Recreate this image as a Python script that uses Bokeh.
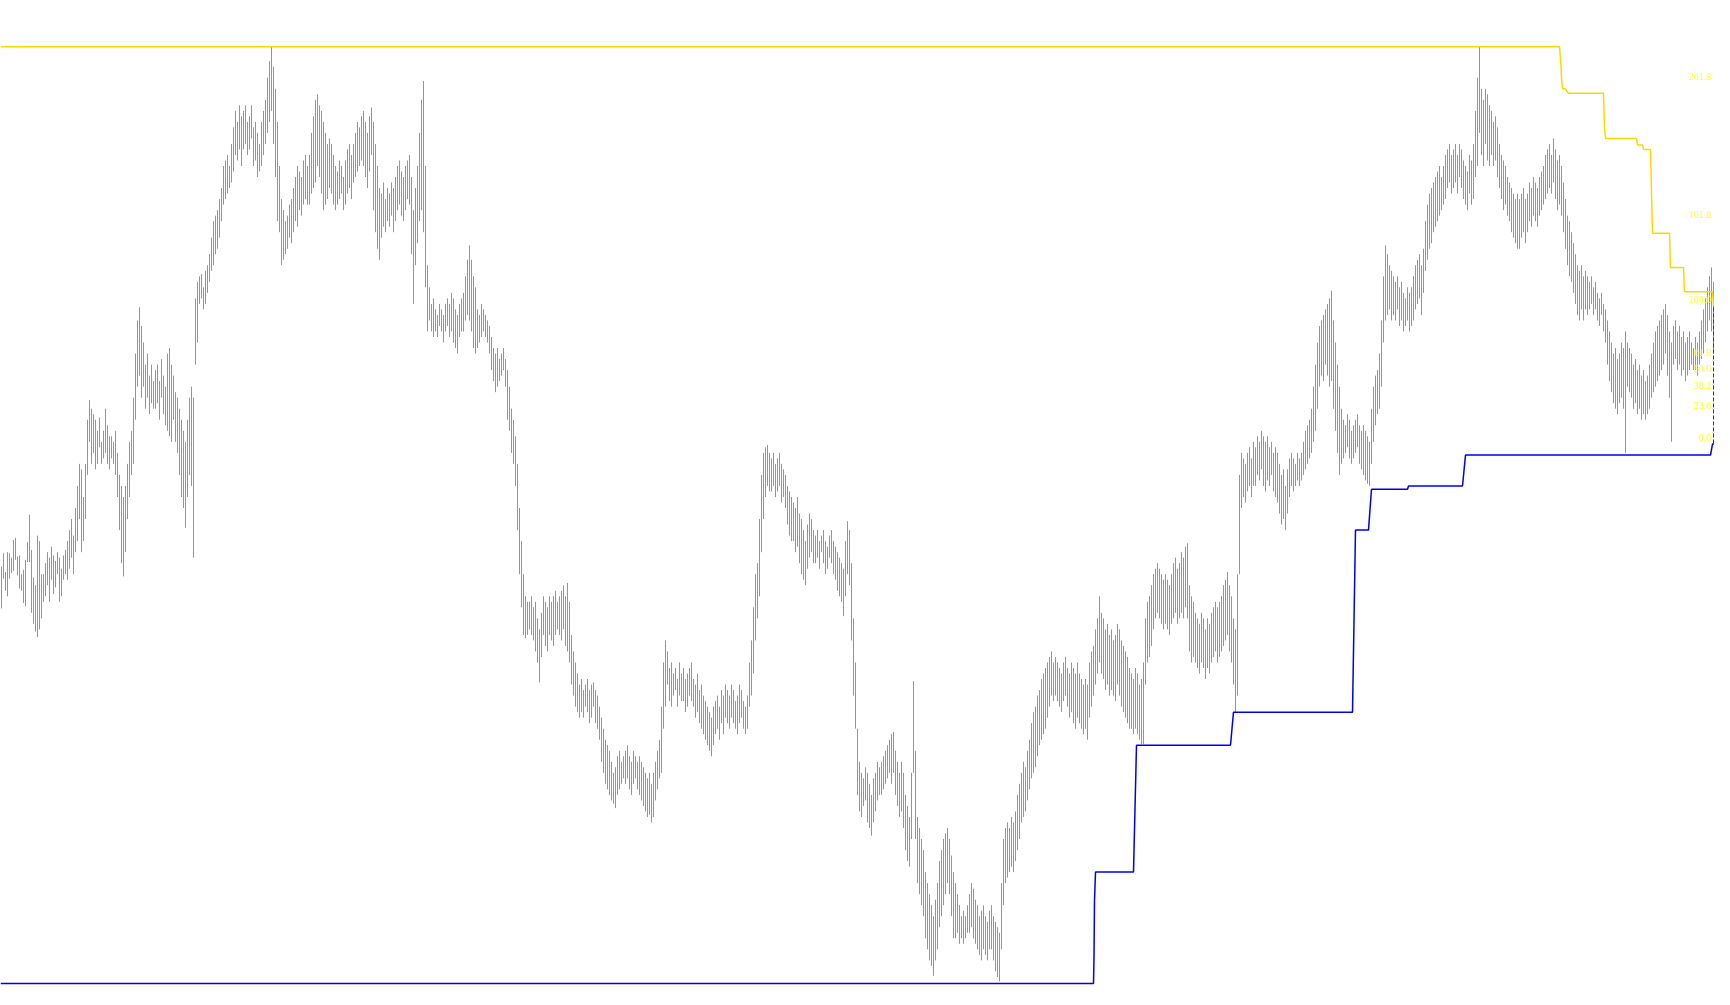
from bokeh.plotting import figure
from bokeh.models import Range1d, ColumnDataSource, LabelSet
from bokeh.embed import file_html
from bokeh.resources import INLINE

# ---- bar data (high / low of each bar, price units) ----
highs = [
    487,499,482,500,499,495,511,513,496,497,480,
    484,493,509,534,502,477,470,515,510,480,480,
    490,500,495,505,497,492,500,495,485,497,502,
    510,520,530,515,540,560,580,575,550,580,620,
    638,630,625,620,610,622,600,610,630,615,605,
    605,600,610,590,570,560,550,560,580,600,610,
    640,680,710,722,705,690,670,680,660,670,655,
    665,670,655,675,660,650,680,685,670,660,645,
    640,630,620,610,600,620,640,650,640,730,745,
    750,752,740,755,760,770,785,800,805,810,820,
    830,850,855,860,850,870,885,900,890,905,895,
    900,905,890,895,905,885,890,880,870,890,900,
    910,930,945,958,940,920,890,850,820,810,800,
    805,815,820,830,840,850,845,840,855,860,850,
    860,880,895,910,915,905,900,890,880,870,875,
    870,860,850,845,855,850,840,855,865,870,860,
    870,880,890,885,895,900,890,880,895,903,890,
    870,850,830,825,835,820,830,825,835,830,840,
    850,855,845,840,850,855,860,840,810,830,850,
    880,910,927,850,760,740,725,730,720,715,725,
    720,715,725,730,725,735,730,720,715,725,730,
    735,750,765,778,765,750,740,720,715,725,720,
    715,710,705,695,685,680,685,675,680,685,675,
    665,650,630,620,605,580,540,510,480,460,455,
    455,460,450,455,440,430,445,460,455,450,460,
    455,460,465,455,460,465,470,460,472,455,425,
    410,400,390,380,385,375,380,385,375,380,382,
    375,370,360,350,340,330,325,320,310,300,305,
    315,320,310,315,320,325,315,310,320,315,310,
    315,310,305,300,295,300,290,300,310,320,330,
    360,400,420,410,395,400,390,395,385,400,390,
    395,385,390,395,400,385,380,390,375,380,370,
    365,360,355,350,360,365,370,360,375,370,380,
    375,370,380,375,365,370,380,375,365,360,370,
    400,420,450,480,490,530,570,590,595,597,590,
    585,590,580,585,590,580,575,570,560,555,550,
    545,540,550,535,530,520,510,525,535,530,520,
    515,520,510,515,520,510,505,515,520,510,505,
    500,495,490,485,510,528,520,490,440,400,340,
    310,300,295,305,300,290,280,295,300,310,305,
    310,315,320,325,330,335,337,320,310,300,310,
    300,280,270,260,300,383,320,260,250,240,230,
    210,200,190,180,170,185,200,220,230,240,245,
    250,240,225,210,200,190,180,170,175,170,180,
    190,200,195,185,180,170,175,180,170,165,175,
    180,170,165,160,155,200,240,250,255,250,260,
    255,265,280,290,300,310,305,320,330,345,355,
    360,370,375,385,390,395,400,405,410,400,405,
    400,395,390,400,405,395,390,400,395,390,400,
    390,385,380,385,380,400,410,415,430,440,460,
    445,440,430,435,425,430,420,425,435,430,420,
    415,410,405,395,390,385,395,390,380,385,400,
    440,455,460,470,480,485,490,485,480,475,480,
    475,470,480,490,495,485,490,500,495,505,508,
    470,460,455,445,440,435,445,440,430,440,435,
    445,450,455,450,455,460,470,475,482,470,460,
    440,430,480,570,590,585,580,590,595,585,600,
    595,605,600,610,605,600,605,595,600,590,595,
    590,580,570,575,560,575,585,590,585,580,590,
    585,590,600,610,615,620,630,650,670,690,705,
    710,715,720,725,730,737,710,690,670,650,630,
    620,615,625,620,610,615,620,625,615,610,615,
    610,605,600,630,650,660,665,680,710,750,778,
    770,760,755,750,745,750,740,745,735,730,740,
    735,740,750,760,765,770,760,775,800,815,825,
    830,835,840,845,850,840,850,860,865,870,860,
    865,870,860,870,865,855,850,845,860,855,870,
    900,930,958,920,910,920,915,905,900,890,895,
    885,870,860,855,850,840,835,830,825,820,825,
    820,825,830,820,825,835,830,840,835,830,840,
    845,850,860,865,870,860,875,865,855,860,850,
    835,820,805,800,790,780,770,760,755,760,750,
    755,750,745,750,740,745,735,730,735,725,720,
    710,700,690,680,685,675,680,690,685,700,690,
    685,680,670,675,665,670,660,665,655,660,670,
    680,690,700,705,710,715,720,725,715,700,690,
    705,710,700,705,695,700,690,695,700,690,685,
    695,690,700,710,720,730,740,750,758,745,735,
    730,720,735,725,715,710,
]
lows = [
    449,476,465,460,476,481,483,493,479,467,465,
    454,451,491,491,445,435,428,423,430,440,455,
    460,470,455,475,462,468,480,455,460,475,480,
    475,485,495,480,500,510,530,500,510,530,570,
    600,580,590,575,580,595,580,585,590,580,575,
    585,580,570,550,520,490,478,500,530,550,570,
    580,620,650,660,640,650,630,640,625,635,630,
    630,635,620,640,625,615,610,605,600,620,600,
    590,570,550,540,522,550,570,560,495,670,690,
    725,730,720,725,735,745,755,760,770,775,785,
    800,815,820,825,830,835,845,860,855,865,850,
    865,870,860,865,875,850,855,840,845,850,860,
    870,880,890,900,870,840,800,790,760,765,770,
    775,785,780,790,800,795,810,805,815,820,815,
    815,825,830,835,850,840,825,810,815,820,830,
    825,815,810,815,820,825,810,815,825,830,820,
    835,840,845,850,855,850,840,830,845,860,810,
    790,775,765,785,795,790,800,795,805,790,800,
    810,815,805,800,810,820,815,770,725,760,780,
    800,810,790,740,700,710,700,695,700,695,705,
    700,690,700,705,695,700,690,685,680,695,700,
    700,710,715,710,700,685,680,685,690,695,700,
    695,690,680,665,655,645,650,655,660,665,650,
    620,610,590,580,560,520,480,450,425,422,425,
    430,425,420,410,400,382,405,425,415,410,425,
    420,415,425,430,425,420,430,415,410,400,380,
    370,360,355,350,355,350,360,355,345,350,360,
    345,340,330,310,300,290,285,280,275,272,268,
    280,285,290,295,290,295,285,280,290,295,285,
    280,275,270,265,260,262,255,260,275,285,295,
    300,340,360,380,365,360,370,375,360,370,365,
    365,355,360,370,365,360,350,355,345,340,335,
    330,325,320,315,325,335,340,330,345,335,350,
    345,340,350,345,340,335,345,350,340,335,340,
    360,370,390,420,440,460,500,530,550,560,555,
    555,560,550,555,560,545,550,540,525,515,510,
    510,500,505,490,480,475,470,485,495,500,490,
    490,495,485,500,490,480,485,495,490,480,475,
    465,460,455,442,460,480,470,420,370,340,280,
    265,260,270,275,255,250,243,255,265,275,280,
    280,285,290,295,300,290,300,280,270,260,265,
    250,230,220,215,240,300,240,200,190,180,170,
    150,140,130,125,116,130,140,160,170,180,190,
    200,190,170,150,150,155,145,150,145,150,155,
    155,160,150,145,140,135,130,140,135,130,140,
    140,130,120,115,111,140,180,200,205,210,215,
    210,220,230,240,255,260,265,275,285,295,300,
    305,315,325,330,335,340,350,360,370,365,370,
    365,360,355,365,370,360,350,355,345,340,350,
    345,340,335,340,330,350,360,370,380,390,400,
    390,385,375,380,370,375,370,365,380,370,360,
    355,350,345,340,340,335,340,335,330,326,326,
    380,400,405,415,430,440,445,440,435,430,435,
    430,425,435,440,445,435,440,445,440,450,440,
    410,400,405,400,395,390,400,395,385,395,390,
    400,405,410,400,405,410,415,420,425,410,400,
    380,355,370,480,540,550,545,555,560,550,560,
    560,570,565,575,560,555,565,560,570,555,550,
    545,535,525,530,520,535,550,560,555,560,565,
    560,565,570,575,580,585,590,600,610,630,650,
    660,655,670,660,650,655,630,610,590,570,580,
    585,590,595,585,580,585,590,595,580,575,570,
    565,562,560,580,600,615,625,630,650,690,710,
    715,720,710,715,710,720,705,710,700,705,710,
    700,705,710,720,725,730,715,735,755,765,775,
    780,790,795,800,805,810,815,820,830,835,825,
    830,835,825,840,830,820,815,810,825,815,820,
    840,850,880,860,850,870,855,850,860,850,855,
    840,830,820,810,815,805,800,790,785,780,775,
    775,785,790,780,790,800,795,805,800,795,805,
    810,815,820,825,830,825,835,820,810,815,805,
    790,775,760,750,745,735,725,715,710,720,710,
    720,715,720,725,715,720,710,705,715,700,690,
    670,655,645,635,630,625,635,640,630,590,650,
    645,640,630,635,625,630,620,625,620,625,630,
    640,645,650,655,660,665,670,680,660,640,600,
    670,675,665,670,660,665,655,660,665,670,665,
    665,660,670,675,680,690,700,710,700,680,660,
    650,640,660,655,640,635,
]

# ---- upper (yellow) and lower (blue) channel lines: (bar index, price) ----
upper_x = [-0.5, 779, 779.5, 780, 780.5, 782, 782.5, 783, 783.5, 801, 801.5, 802,
           817.5, 818, 820.5, 821, 824.5, 825.5, 834, 834.5, 841, 841.5, 855.5, 856, 864.5]
upper_y = [958, 958, 948, 930, 920, 920, 918, 917, 916, 916, 885, 875,
           875, 869, 869, 865, 865, 789, 789, 758, 758, 736, 736, 724, 724]
lower_x = [-0.5, 546, 546.25, 546.5, 547, 566, 567.5, 614.5, 616, 675.5, 677,
           683.5, 685, 703, 703.5, 730.5, 732, 854.5, 855.5, 864.5]
lower_y = [109, 109, 133, 184, 210, 210, 325, 325, 355, 355, 520,
           520, 557, 557, 560, 560, 588, 588, 598, 598]

# ---- Fibonacci retracement ----
fib_low = 598.5
fib_high = 723.6
fib_ratios = [0.0, 23.6, 38.2, 50.0, 61.8, 100.0, 161.8, 261.8]
fib_labels = ["0.0", "23.6", "38.2", "50.0", "61.8", "100.0", "161.8", "261.8"]
fib_x = 856.0
label_x = 856.0

n = len(highs)
bar_idx = list(range(n))
bars = ColumnDataSource(dict(x=bar_idx, hi=highs, lo=lows))

fib_levels = [fib_low + r / 100.0 * (fib_high - fib_low) for r in fib_ratios]
fib_src = ColumnDataSource(dict(x=[label_x] * len(fib_levels), y=fib_levels, t=fib_labels))

# one bar every 2 px
p = figure(width=1714, height=989, output_backend="svg", toolbar_location=None,
           x_range=Range1d(-0.5, 856.5), y_range=Range1d(1000.0 - 989 / 1.1033, 1000.0),
           x_axis_type=None, y_axis_type=None,
           min_border=0, min_border_left=0, min_border_right=0,
           min_border_top=0, min_border_bottom=0)
p.grid.visible = False
p.outline_line_color = None
p.background_fill_color = "white"
p.border_fill_color = "white"

p.segment(x0="x", y0="lo", x1="x", y1="hi", source=bars,
          line_color="#22e622", line_width=1)

p.line(upper_x, upper_y, line_color="#ffd700", line_width=1.5)
p.line(lower_x, lower_y, line_color="#0000ee", line_width=1.5)

p.segment(x0=[fib_x], y0=[fib_low], x1=[fib_x], y1=[fib_high],
          line_color="#006400", line_width=1, line_dash="4 2")

labels = LabelSet(x="x", y="y", text="t", source=fib_src, x_offset=-2,
                  text_align="right", text_baseline="alphabetic", y_offset=2,
                  text_color="#ffff00", text_font="Roboto", text_font_size="10px")
p.add_layout(labels)

open("out.html", "w").write(file_html(p, INLINE))
